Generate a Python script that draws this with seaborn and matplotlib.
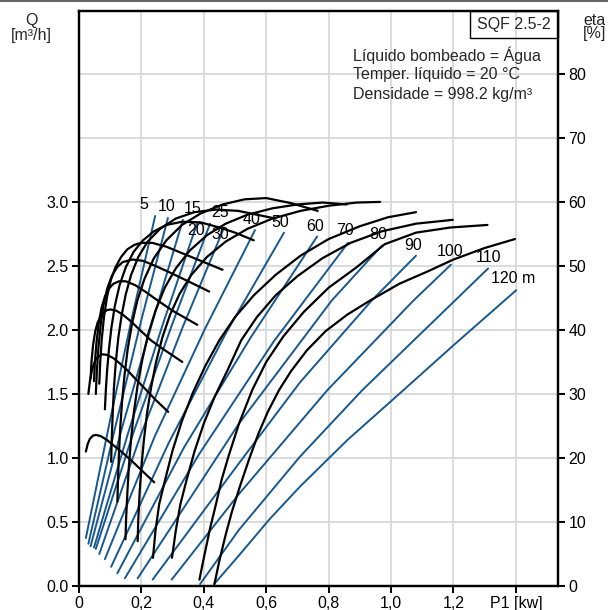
import numpy as np
import pandas as pd
import matplotlib
matplotlib.use('Agg')
import matplotlib.pyplot as plt
import seaborn as sns
from matplotlib.patches import Rectangle
from matplotlib.lines import Line2D

# pump heads [m]
heads = [5, 10, 15, 20, 25, 30, 40, 50, 60, 70, 80, 90, 100, 110, 120]

# blue curves: Q [m3/h] over P1 [kW], one per head
flow_p1 = {
    5: [0.022, 0.10, 0.17, 0.244],
    10: [0.030, 0.115, 0.20, 0.285],
    15: [0.037, 0.136, 0.235, 0.333],
    20: [0.048, 0.158, 0.268, 0.378],
    25: [0.054, 0.176, 0.298, 0.420],
    30: [0.065, 0.198, 0.332, 0.465],
    40: [0.083, 0.243, 0.404, 0.564],
    50: [0.103, 0.288, 0.472, 0.657],
    60: [0.123, 0.336, 0.550, 0.763],
    70: [0.147, 0.385, 0.624, 0.862],
    80: [0.188, 0.513, 0.810, 0.971],
    90: [0.236, 0.513, 0.708, 0.938, 1.080],
    100: [0.297, 0.513, 0.796, 1.072, 1.192],
    110: [0.388, 0.513, 0.708, 0.908, 1.205, 1.311],
    120: [0.433, 0.513, 0.61, 0.708, 0.86, 1.026, 1.20, 1.401],
}
flow_q = {
    5: [0.375, 1.30, 2.10, 2.89],
    10: [0.33, 1.23, 2.08, 2.875],
    15: [0.31, 1.22, 2.06, 2.86],
    20: [0.30, 1.20, 2.04, 2.83],
    25: [0.29, 1.21, 2.04, 2.83],
    30: [0.25, 1.18, 2.02, 2.80],
    40: [0.21, 1.17, 2.01, 2.78],
    50: [0.15, 1.12, 1.98, 2.76],
    60: [0.10, 1.08, 1.94, 2.73],
    70: [0.06, 1.03, 1.91, 2.68],
    80: [0.06, 1.27, 2.23, 2.66],
    90: [0.05, 0.96, 1.59, 2.23, 2.58],
    100: [0.05, 0.72, 1.53, 2.23, 2.51],
    110: [0.015, 0.44, 1.01, 1.53, 2.23, 2.48],
    120: [0.015, 0.24, 0.52, 0.776, 1.14, 1.50, 1.88, 2.31],
}

# black curves: eta [%] over P1 [kW], one per head
eta_p1 = {
    5: [0.022, 0.028, 0.035, 0.045, 0.055, 0.07, 0.09, 0.115, 0.14, 0.17, 0.20, 0.241],
    10: [0.030, 0.035, 0.042, 0.05, 0.06, 0.075, 0.09, 0.11, 0.13, 0.155, 0.18, 0.21,
         0.245, 0.286],
    15: [0.037, 0.040, 0.045, 0.052, 0.06, 0.07, 0.08, 0.09, 0.101, 0.12, 0.14, 0.165,
         0.195, 0.23, 0.27, 0.331],
    20: [0.048, 0.051, 0.056, 0.063, 0.072, 0.083, 0.095, 0.11, 0.128, 0.15, 0.18, 0.215,
         0.255, 0.30, 0.379],
    25: [0.054, 0.057, 0.062, 0.069, 0.078, 0.09, 0.105, 0.122, 0.14, 0.171, 0.205, 0.245,
         0.29, 0.35, 0.417],
    30: [0.065, 0.068, 0.073, 0.08, 0.09, 0.102, 0.117, 0.135, 0.155, 0.178, 0.20, 0.235,
         0.28, 0.33, 0.39, 0.46],
    40: [0.083, 0.086, 0.09, 0.096, 0.104, 0.115, 0.13, 0.15, 0.175, 0.205, 0.24, 0.28,
         0.33, 0.39, 0.45, 0.50, 0.56],
    50: [0.103, 0.105, 0.108, 0.112, 0.118, 0.126, 0.137, 0.15, 0.167, 0.19, 0.22, 0.26,
         0.31, 0.37, 0.44, 0.51, 0.57, 0.63],
    60: [0.123, 0.125, 0.128, 0.132, 0.138, 0.146, 0.156, 0.17, 0.187, 0.21, 0.24, 0.28,
         0.33, 0.39, 0.46, 0.53, 0.60, 0.68, 0.765],
    70: [0.149, 0.151, 0.155, 0.16, 0.167, 0.176, 0.188, 0.203, 0.222, 0.245, 0.275, 0.31,
         0.355, 0.41, 0.47, 0.54, 0.62, 0.70, 0.78, 0.858],
    80: [0.188, 0.19, 0.194, 0.2, 0.208, 0.218, 0.231, 0.247, 0.267, 0.292, 0.322, 0.36,
         0.41, 0.47, 0.54, 0.62, 0.71, 0.80, 0.89, 0.965],
    90: [0.237, 0.245, 0.257, 0.276, 0.30, 0.33, 0.365, 0.405, 0.45, 0.50, 0.56, 0.63,
         0.71, 0.80, 0.90, 0.99, 1.08],
    100: [0.298, 0.31, 0.325, 0.345, 0.37, 0.40, 0.435, 0.475, 0.52, 0.57, 0.63, 0.70,
          0.78, 0.87, 0.97, 1.08, 1.198],
    110: [0.386, 0.40, 0.42, 0.44, 0.457, 0.48, 0.513, 0.555, 0.60, 0.655, 0.72, 0.80,
          0.89, 0.98, 1.08, 1.19, 1.309],
    120: [0.434, 0.45, 0.47, 0.49, 0.516, 0.545, 0.575, 0.605, 0.641, 0.68, 0.73, 0.79,
          0.86, 0.933, 1.026, 1.12, 1.20, 1.30, 1.397],
}
eta_val = {
    5: [21.0, 22.2, 23.0, 23.5, 23.6, 23.4, 22.8, 21.8, 20.8, 19.5, 18.1, 16.2],
    10: [30.0, 32.0, 33.8, 35.0, 35.8, 36.2, 36.1, 35.6, 34.8, 33.7, 32.4, 30.9, 29.1, 27.2],
    15: [32.4, 35.0, 37.6, 39.8, 41.2, 42.2, 42.8, 43.1, 43.2, 43.0, 42.4, 41.4, 40.0,
         38.4, 37.0, 35.0],
    20: [32.0, 35.0, 38.0, 41.0, 43.4, 45.2, 46.4, 47.2, 47.6, 47.6, 47.0, 45.9, 44.5,
         43.0, 40.8],
    25: [30.0, 33.4, 37.0, 40.6, 43.8, 46.4, 48.4, 49.8, 50.6, 51.0, 50.8, 50.0, 49.0,
         47.6, 46.0],
    30: [31.6, 35.0, 38.6, 42.0, 45.2, 47.8, 49.8, 51.4, 52.6, 53.3, 53.6, 53.6, 53.0,
         52.0, 50.8, 49.4],
    40: [27.6, 30.6, 33.6, 37.0, 40.4, 43.8, 47.0, 49.8, 52.2, 54.0, 55.4, 56.4, 56.9,
         56.8, 56.0, 55.2, 54.0],
    50: [19.4, 23.0, 27.0, 31.0, 35.0, 38.8, 42.4, 45.6, 48.6, 51.4, 53.8, 55.8, 57.4,
         58.4, 58.8, 58.6, 58.0, 57.4],
    60: [13.2, 16.6, 20.6, 24.6, 28.8, 33.0, 37.0, 41.0, 44.6, 48.0, 51.2, 54.0, 56.4,
         58.2, 59.6, 60.4, 60.6, 59.8, 58.6],
    70: [7.3, 10.6, 14.6, 18.8, 23.0, 27.2, 31.4, 35.4, 39.4, 43.0, 46.6, 49.6, 52.4,
         54.8, 56.6, 58.0, 59.0, 59.6, 59.9, 59.6],
    80: [7.0, 10.4, 14.4, 18.6, 22.8, 27.0, 31.0, 35.0, 38.8, 42.4, 45.6, 48.6, 51.4,
         53.8, 55.8, 57.4, 58.6, 59.4, 59.9, 60.0],
    90: [4.4, 8.6, 12.8, 16.6, 21.2, 25.8, 30.2, 34.4, 38.4, 42.0, 45.4, 48.6, 51.6,
         54.2, 56.2, 57.6, 58.4],
    100: [4.4, 8.6, 12.8, 16.6, 21.0, 25.4, 29.6, 33.6, 38.4, 42.0, 45.4, 48.4, 51.2,
          53.6, 55.4, 56.6, 57.2],
    110: [1.0, 4.4, 9.0, 13.0, 16.6, 20.4, 25.4, 30.6, 35.0, 39.0, 42.8, 46.6, 49.8,
          53.4, 55.2, 56.0, 56.4],
    120: [0.3, 4.0, 8.0, 11.6, 15.6, 19.8, 23.8, 27.2, 30.6, 33.6, 36.8, 39.8, 42.4,
          44.6, 47.2, 49.2, 51.0, 52.8, 54.2],
}

x_ticks = [0, 0.2, 0.4, 0.6, 0.8, 1.0, 1.2, 1.4]
x_labels = ['0', '0,2', '0,4', '0,6', '0,8', '1,0', '1,2', 'P1 [kw]']
q_ticks = [0.0, 0.5, 1.0, 1.5, 2.0, 2.5, 3.0]
q_grid_extra = [3.5, 4.0]
eta_ticks = [0, 10, 20, 30, 40, 50, 60, 70, 80]

info_lines = ['Líquido bombeado = Água', 'Temper. líquido = 20 °C',
              'Densidade = 998.2 kg/m³']

# label offsets (pixels) from the top end of each blue curve
label_offsets = {5: (-11, 11), 10: (-1, 11), 15: (10, 11), 20: (-1, -7),
                 25: (10, 11), 30: (-4, -7), 40: (-3, 11), 50: (-4, 10),
                 60: (-2, 10), 70: (-3, 12), 80: (-4, 11), 90: (-3, 10),
                 100: (-1, 13), 110: (0, 11), 120: (-25, 12)}

BLUE = '#17588f'
GRID = '#d6d6d6'
FS = 11.5

sns.set_theme(style='white')
plt.rcParams['font.family'] = ['Liberation Sans', 'DejaVu Sans']

flow_rows = [(h, p, q) for h in heads for p, q in zip(flow_p1[h], flow_q[h])]
df_flow = pd.DataFrame(flow_rows, columns=['head', 'p1', 'q'])
eta_rows = [(h, p, e) for h in heads for p, e in zip(eta_p1[h], eta_val[h])]
df_eta = pd.DataFrame(eta_rows, columns=['head', 'p1', 'eta'])

fig = plt.figure(figsize=(6.08, 6.10), dpi=100)
ax = fig.add_axes([79 / 608, 1 - 586 / 610, 479 / 608, 575.5 / 610])
ax2 = ax.twinx()

sns.lineplot(data=df_flow, x='p1', y='q', units='head', estimator=None,
             sort=False, color=BLUE, lw=1.4, legend=False, ax=ax)
sns.lineplot(data=df_eta, x='p1', y='eta', units='head', estimator=None,
             sort=False, color='black', lw=1.6, legend=False, ax=ax2)

ax.set_xlim(0, 1.535)
ax.set_ylim(0, 4.495)
ax2.set_ylim(0, 89.9)

ax.set_xticks(x_ticks)
ax.set_xticklabels(x_labels)
ax.set_yticks(q_ticks)
ax.set_yticklabels(['%.1f' % v for v in q_ticks])
ax.set_yticks(q_grid_extra, minor=True)
ax2.set_yticks(eta_ticks)
ax2.set_yticklabels([str(v) for v in eta_ticks])

ax.set_xlabel('')
ax.set_ylabel('')
ax2.set_ylabel('')

ax.grid(True, which='both', color=GRID, lw=1.2)
ax.set_axisbelow(True)

for a in (ax, ax2):
    for s in a.spines.values():
        s.set_color('black')
        s.set_linewidth(1.6)
ax.tick_params(axis='both', direction='out', length=5, width=1.4,
               labelsize=FS, colors='black', pad=2.5, left=True, bottom=True)
ax.tick_params(axis='y', which='minor', length=0)
ax2.tick_params(axis='y', direction='out', length=5, width=1.4,
                labelsize=FS, colors='black', pad=2.5, right=True)

# head labels
for h in heads:
    dx, dy = label_offsets[h]
    txt = '120 m' if h == 120 else str(h)
    ax.annotate(txt, xy=(flow_p1[h][-1], flow_q[h][-1]), xytext=(dx, dy),
                textcoords='offset pixels', ha='left' if h == 120 else 'center',
                va='center', fontsize=FS, color='black')

# model box
ax.add_patch(Rectangle((0.816, 0.952), 0.184, 0.048, transform=ax.transAxes,
                       fill=False, edgecolor='black', lw=1.0, clip_on=False))
ax.text(0.908, 0.976, 'SQF 2.5-2', transform=ax.transAxes, ha='center',
        va='center', fontsize=FS)

for i, line in enumerate(info_lines):
    ax.text(0.572, 0.923 - i * 0.0348, line, transform=ax.transAxes,
            ha='left', va='center', fontsize=FS)

# axis titles (two lines each)
fig.text(31.5 / 608, 1 - 28 / 610, 'Q\n[m³/h]', ha='center', va='center',
         multialignment='center', linespacing=0.95, fontsize=FS)
fig.text(594.5 / 608, 1 - 27 / 610, 'eta\n[%]', ha='center', va='center',
         multialignment='center', linespacing=0.8, fontsize=FS)

fig.add_artist(Line2D([0, 1], [0.999, 0.999], color='#666666', lw=1.5,
                      transform=fig.transFigure))

fig.savefig('out.png', dpi=100)
